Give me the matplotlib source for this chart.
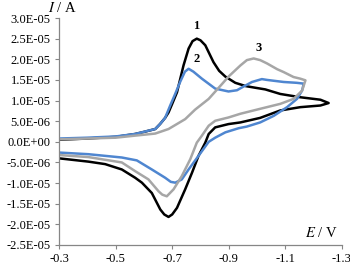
import numpy as np
import matplotlib
matplotlib.use('Agg')
import matplotlib.pyplot as plt

# 电位 (V) 与电流 (单位 1E-05 A)，三条 CV 曲线
E1 = [-0.30, -0.40, -0.50, -0.569, -0.60, -0.64, -0.657, -0.675, -0.687, -0.700, -0.717, -0.740,
      -0.758, -0.772, -0.787, -0.800, -0.817, -0.846, -0.866, -0.888, -0.923, -0.960, -0.994,
      -1.029, -1.082, -1.153, -1.224, -1.253,
      -1.224, -1.153, -1.082, -1.011, -0.941, -0.899, -0.852, -0.829, -0.817, -0.793, -0.770,
      -0.746, -0.717, -0.700, -0.687, -0.672, -0.658, -0.628, -0.593, -0.569, -0.522, -0.463,
      -0.404, -0.30]
I1 = [0.05, 0.08, 0.12, 0.19, 0.24, 0.31, 0.43, 0.58, 0.71, 0.92, 1.20, 1.85,
      2.26, 2.44, 2.50, 2.46, 2.34, 1.93, 1.72, 1.58, 1.43, 1.35, 1.31,
      1.27, 1.16, 1.08, 1.02, 0.94,
      0.88, 0.84, 0.76, 0.58, 0.47, 0.43, 0.35, 0.19, -0.02, -0.34, -0.75,
      -1.15, -1.60, -1.76, -1.82, -1.76, -1.64, -1.24, -0.99, -0.87, -0.67, -0.54,
      -0.48, -0.40]

E2 = [-0.30, -0.40, -0.50, -0.569, -0.64, -0.657, -0.675, -0.693, -0.710, -0.728, -0.745, -0.758,
      -0.775, -0.805, -0.852, -0.899, -0.929, -0.947, -0.982, -1.017, -1.035, -1.094, -1.140,
      -1.165,
      -1.159, -1.141, -1.106, -1.059, -1.011, -0.964, -0.935, -0.888, -0.852, -0.829, -0.793,
      -0.758, -0.734, -0.711, -0.695, -0.675, -0.628, -0.575, -0.522, -0.404, -0.30]
I2 = [0.08, 0.10, 0.13, 0.19, 0.31, 0.43, 0.58, 0.88, 1.15, 1.45, 1.70, 1.77,
      1.70, 1.53, 1.29, 1.22, 1.25, 1.32, 1.45, 1.52, 1.50, 1.45, 1.43,
      1.41,
      1.24, 1.04, 0.84, 0.63, 0.47, 0.37, 0.33, 0.23, 0.10, 0.00, -0.34,
      -0.67, -0.91, -0.99, -0.97, -0.87, -0.67, -0.45, -0.38, -0.30, -0.26]

E3 = [-0.30, -0.40, -0.50, -0.569, -0.64, -0.687, -0.746, -0.781, -0.829, -0.876, -0.899, -0.941,
      -0.964, -0.988, -1.011, -1.035, -1.071, -1.094, -1.129, -1.153, -1.171,
      -1.159, -1.129, -1.082, -1.011, -0.941, -0.899, -0.852, -0.829, -0.805, -0.787, -0.764,
      -0.734, -0.705, -0.681, -0.665, -0.652, -0.616, -0.569, -0.522, -0.404, -0.30]
I3 = [0.06, 0.08, 0.10, 0.15, 0.20, 0.31, 0.55, 0.78, 1.04, 1.40, 1.58, 1.85,
      1.98, 2.02, 1.98, 1.90, 1.76, 1.69, 1.57, 1.53, 1.49,
      1.24, 1.04, 0.92, 0.80, 0.68, 0.59, 0.51, 0.39, 0.15, -0.02, -0.42,
      -0.83, -1.15, -1.32, -1.28, -1.20, -0.91, -0.71, -0.50, -0.37, -0.32]

x_ticks = [-0.3, -0.5, -0.7, -0.9, -1.1, -1.3]
y_ticks = [-2.5e-5, -2.0e-5, -1.5e-5, -1.0e-5, -5.0e-6, 0.0, 5.0e-6, 1.0e-5, 1.5e-5, 2.0e-5, 2.5e-5, 3.0e-5]
scale = 1e-5

plt.rcParams['font.family'] = ['Liberation Serif', 'DejaVu Serif']
plt.rcParams['mathtext.fontset'] = 'stix'

fig = plt.figure(figsize=(3.5, 2.65), dpi=100)
ax = fig.add_axes([0.1686, 0.0755, 0.8084, 0.8565])

curves = [
    (E1, I1, '#000000'),
    (E2, I2, '#4f86d0'),
    (E3, I3, '#a6a6a6'),
]
for E, I, c in curves:
    ax.plot(E, np.array(I) * scale, color=c, linewidth=1.8,
            solid_joinstyle='round', solid_capstyle='round')

ax.set_xlim(-0.3, -1.3)
ax.set_ylim(-2.5e-5, 3.0e-5)
ax.set_xticks(x_ticks)
ax.set_xticklabels([f'{v:.1f}' for v in x_ticks])
ax.set_yticks(y_ticks)
ax.set_yticklabels([f'{v:.1E}' for v in y_ticks])

for s in ['top', 'right']:
    ax.spines[s].set_visible(False)
for s in ['left', 'bottom']:
    ax.spines[s].set_color('#868686')
    ax.spines[s].set_linewidth(0.9)
ax.tick_params(axis='both', direction='out', length=3, width=0.8, color='#868686',
               labelsize=9, pad=3)

# 曲线编号
ax.text(-0.785, 2.8e-5, '1', fontsize=9, fontweight='bold', ha='center', va='center')
ax.text(-0.785, 2.0e-5, '2', fontsize=9, fontweight='bold', ha='center', va='center')
ax.text(-1.007, 2.27e-5, '3', fontsize=9, fontweight='bold', ha='center', va='center')

# 坐标轴标题
fig.text(62 / 350, 1 - 8 / 265, '$I$ / A', fontsize=10.5, ha='center', va='center')
fig.text(321 / 350, 1 - 233 / 265, '$E$ / V', fontsize=10.5, ha='center', va='center')

plt.savefig('out.png', dpi=100)
plt.close()
